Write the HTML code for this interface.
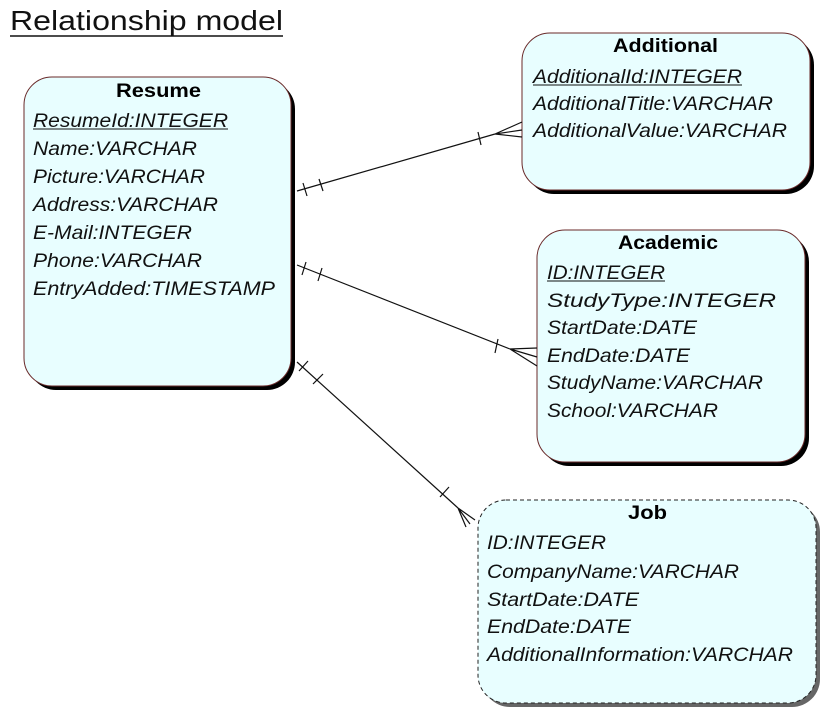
<!DOCTYPE html>
<html><head><meta charset="utf-8"><style>
body{margin:0;background:#fff;width:836px;height:722px;overflow:hidden}
svg text{font-family:"Liberation Sans",Arial,sans-serif}
.a{font-size:19px;font-style:italic;fill:#111}
.t{font-size:19px;font-weight:bold;fill:#000}
</style></head><body>
<svg width="836" height="722" xmlns="http://www.w3.org/2000/svg">
<text x="10" y="30" font-size="28" fill="#111" textLength="273" lengthAdjust="spacingAndGlyphs">Relationship model</text>
<line x1="10" y1="36" x2="283" y2="36" stroke="#111" stroke-width="1.5"/>

<rect x="28" y="81" width="267" height="309" rx="28" fill="#000"/>
<rect x="526" y="37" width="288" height="157" rx="28" fill="#000"/>
<rect x="541" y="234" width="268" height="232" rx="28" fill="#000"/>
<rect x="482" y="504" width="338" height="203" rx="28" fill="#666"/>

<rect x="24" y="77" width="267" height="309" rx="28" fill="#e8feff" stroke="#6a2a2a" stroke-width="1"/>
<rect x="522" y="33" width="288" height="157" rx="28" fill="#e8feff" stroke="#6a2a2a" stroke-width="1"/>
<rect x="537" y="230" width="268" height="232" rx="28" fill="#e8feff" stroke="#6a2a2a" stroke-width="1"/>
<rect x="478" y="500" width="338" height="203" rx="28" fill="#e8feff" stroke="#222" stroke-width="1" stroke-dasharray="4,3"/>

<text class="t" x="116" y="97" textLength="85" lengthAdjust="spacingAndGlyphs">Resume</text>
<text class="a" x="33" y="127" textLength="195" lengthAdjust="spacingAndGlyphs">ResumeId:INTEGER</text>
<line x1="33" y1="129" x2="228" y2="129" stroke="#111"/>
<text class="a" x="33" y="155" textLength="164" lengthAdjust="spacingAndGlyphs">Name:VARCHAR</text>
<text class="a" x="33" y="183" textLength="172" lengthAdjust="spacingAndGlyphs">Picture:VARCHAR</text>
<text class="a" x="33" y="211" textLength="185" lengthAdjust="spacingAndGlyphs">Address:VARCHAR</text>
<text class="a" x="33" y="239" textLength="159" lengthAdjust="spacingAndGlyphs">E-Mail:INTEGER</text>
<text class="a" x="33" y="267" textLength="169" lengthAdjust="spacingAndGlyphs">Phone:VARCHAR</text>
<text class="a" x="33" y="295" textLength="242" lengthAdjust="spacingAndGlyphs">EntryAdded:TIMESTAMP</text>

<text class="t" x="613" y="52" textLength="105" lengthAdjust="spacingAndGlyphs">Additional</text>
<text class="a" x="533" y="83" textLength="209" lengthAdjust="spacingAndGlyphs">AdditionalId:INTEGER</text>
<line x1="533" y1="85" x2="742" y2="85" stroke="#111"/>
<text class="a" x="533" y="110" textLength="240" lengthAdjust="spacingAndGlyphs">AdditionalTitle:VARCHAR</text>
<text class="a" x="533" y="137" textLength="254" lengthAdjust="spacingAndGlyphs">AdditionalValue:VARCHAR</text>

<text class="t" x="618" y="249" textLength="100" lengthAdjust="spacingAndGlyphs">Academic</text>
<text class="a" x="547" y="279" textLength="118" lengthAdjust="spacingAndGlyphs">ID:INTEGER</text>
<line x1="547" y1="281" x2="665" y2="281" stroke="#111"/>
<text class="a" x="547" y="307" textLength="229" lengthAdjust="spacingAndGlyphs">StudyType:INTEGER</text>
<text class="a" x="547" y="334" textLength="150" lengthAdjust="spacingAndGlyphs">StartDate:DATE</text>
<text class="a" x="547" y="362" textLength="143" lengthAdjust="spacingAndGlyphs">EndDate:DATE</text>
<text class="a" x="547" y="389" textLength="216" lengthAdjust="spacingAndGlyphs">StudyName:VARCHAR</text>
<text class="a" x="547" y="417" textLength="171" lengthAdjust="spacingAndGlyphs">School:VARCHAR</text>

<text class="t" x="628" y="519" textLength="39" lengthAdjust="spacingAndGlyphs">Job</text>
<text class="a" x="487" y="549" textLength="119" lengthAdjust="spacingAndGlyphs">ID:INTEGER</text>
<text class="a" x="487" y="578" textLength="252" lengthAdjust="spacingAndGlyphs">CompanyName:VARCHAR</text>
<text class="a" x="487" y="606" textLength="152" lengthAdjust="spacingAndGlyphs">StartDate:DATE</text>
<text class="a" x="487" y="633" textLength="144" lengthAdjust="spacingAndGlyphs">EndDate:DATE</text>
<text class="a" x="487" y="661" textLength="306" lengthAdjust="spacingAndGlyphs">AdditionalInformation:VARCHAR</text>

<g stroke="#111" stroke-width="1.2" fill="none">
<line x1="297" y1="191" x2="495" y2="134"/>
<path d="M495 134 L522 122 M495 134 L522 130 M495 134 L522 137"/>
<line x1="303" y1="183" x2="307" y2="196"/>
<line x1="319" y1="179" x2="323" y2="191"/>
<line x1="478" y1="132" x2="481" y2="145"/>
<line x1="297" y1="265" x2="510" y2="349"/>
<path d="M510 349 L537 348 M510 349 L537 357 M510 349 L537 366"/>
<line x1="306" y1="262" x2="302" y2="275"/>
<line x1="322" y1="268" x2="318" y2="281"/>
<line x1="498" y1="339" x2="495" y2="353"/>
<line x1="297" y1="362" x2="458" y2="508"/>
<path d="M458 508 L475 520 M458 508 L470 524 M458 508 L466 527"/>
<line x1="299" y1="371" x2="308" y2="361"/>
<line x1="313" y1="384" x2="323" y2="374"/>
<line x1="440" y1="497" x2="449" y2="487"/>
</g>
</svg>
</body></html>
